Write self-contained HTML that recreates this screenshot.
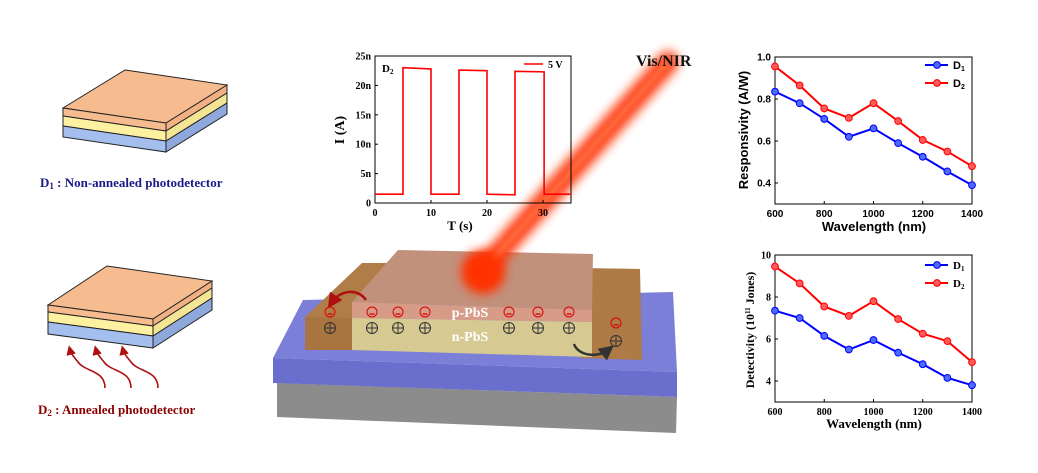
<!DOCTYPE html>
<html><head><meta charset="utf-8"><style>
html,body{margin:0;padding:0;background:#fff;width:1038px;height:473px;overflow:hidden}
svg text{font-family:"Liberation Serif",serif;font-weight:bold}
.s{font-family:"Liberation Sans",sans-serif !important}
</style></head><body>
<svg id="g" width="1038" height="473" viewBox="0 0 1038 473" xmlns="http://www.w3.org/2000/svg">
<defs>
<filter id="bl" x="-50%" y="-50%" width="200%" height="200%"><feGaussianBlur stdDeviation="5"/></filter>
<filter id="bl2" x="-50%" y="-50%" width="200%" height="200%"><feGaussianBlur stdDeviation="2"/></filter>
<marker id="ar" markerWidth="6" markerHeight="6" refX="3" refY="3" orient="auto"><path d="M0,0L6,3L0,6z" fill="#b01010"/></marker>
<marker id="ak" markerWidth="6" markerHeight="6" refX="3" refY="3" orient="auto"><path d="M0,0L6,3L0,6z" fill="#333"/></marker>
</defs>

<g stroke="#222" stroke-width="1">
<polygon points="63,108 125,70 227,85 166,123" fill="#f7bb90"/>
<polygon points="63,108 166,123 166,131 63,116" fill="#f7bb90"/>
<polygon points="63,116 166,131 166,141 63,126" fill="#fdf0a0"/>
<polygon points="63,126 166,141 166,152 63,137" fill="#a4bfee"/>
<polygon points="166,123 227,85 227,93 166,131" fill="#f2b084"/>
<polygon points="166,131 227,93 227,103 166,141" fill="#f3e594"/>
<polygon points="166,141 227,103 227,114 166,152" fill="#8ea8dc"/>
</g>
<text x="40" y="187" font-size="13" fill="#1a1a8a">D<tspan font-size="9" dy="2">1</tspan><tspan dy="-2"> :  Non-annealed photodetector</tspan></text>

<g stroke="#222" stroke-width="1">
<polygon points="48,305 107,266 212,281 153,319" fill="#f7bb90"/>
<polygon points="48,305 153,319 153,326 48,312" fill="#f7bb90"/>
<polygon points="48,312 153,326 153,336 48,322" fill="#fdf0a0"/>
<polygon points="48,322 153,336 153,348 48,334" fill="#a4bfee"/>
<polygon points="153,319 212,281 212,288 153,326" fill="#f2b084"/>
<polygon points="153,326 212,288 212,298 153,336" fill="#f3e594"/>
<polygon points="153,336 212,298 212,310 153,348" fill="#8ea8dc"/>
</g>
<g fill="none" stroke="#b01010" stroke-width="1.6" marker-end="url(#ar)">
<path d="M105,388 C105,370 85,372 78,362 C74,357 71,354 70,350"/>
<path d="M131,388 C131,370 111,372 104,362 C100,357 97,354 96,350"/>
<path d="M158,388 C158,370 138,372 131,362 C127,357 124,354 123,350"/>
</g>
<text x="38" y="414" font-size="13" fill="#8b0000">D<tspan font-size="9" dy="2">2</tspan><tspan dy="-2"> :  Annealed photodetector</tspan></text>

<polygon points="277,383 677,397 676,433 277,417" fill="#8c8c8c"/>
<polygon points="273,358 303,300 673,292 677,372" fill="#7b7fd8"/>
<polygon points="273,358 677,372 677,397 273,383" fill="#6a6ecc"/>
<polygon points="305,317 362,263 400,263 400,348 353,350 305,350" fill="#b07d48"/>
<polygon points="305,317 353,318 353,350 305,350" fill="#a8743f"/>
<polygon points="580,268 640,269 642,360 580,358" fill="#ae7a45"/>
<polygon points="398,250 593,254 592,310 352,302" fill="#c2917c"/>
<polygon points="352,302 592,310 592,322 352,318" fill="#d69c88"/>
<polygon points="352,318 592,322 592,357 352,350" fill="#d6ca92"/>
<line x1="668" y1="62" x2="485" y2="268" stroke="#ff3a10" stroke-width="22" stroke-linecap="round" filter="url(#bl)" opacity="0.95"/>
<line x1="668" y1="62" x2="485" y2="268" stroke="#ff6a40" stroke-width="6" filter="url(#bl2)"/>
<circle cx="483" cy="272" r="22" fill="#ff3000" filter="url(#bl)"/>
<text x="470" y="317" font-size="14" fill="#fff" text-anchor="middle">p-PbS</text>
<text x="470" y="341" font-size="14" fill="#fff" text-anchor="middle">n-PbS</text>
<g id="chg"></g>
<path d="M366,300 C358,288 340,290 332,302" fill="none" stroke="#b01010" stroke-width="2.5" marker-end="url(#ar)"/>
<path d="M574,344 C578,356 598,358 608,350" fill="none" stroke="#333" stroke-width="2.5" marker-end="url(#ak)"/>
<text x="636" y="66" font-size="16" fill="#111">Vis/NIR</text>

<rect x="375" y="56" width="196" height="147" fill="none" stroke="#000" stroke-width="1"/>
<g id="it"></g>
<text x="382" y="72" font-size="11">D<tspan font-size="7" dy="2">2</tspan></text>
<line x1="524" y1="64" x2="543" y2="64" stroke="#f00" stroke-width="1.5"/>
<text x="548" y="68" font-size="10">5 V</text>
<text x="344" y="130" font-size="14" text-anchor="middle" transform="rotate(-90 344 130)">I (A)</text>
<text x="460" y="230" font-size="13" text-anchor="middle">T  (s)</text>

<rect x="775" y="57" width="197" height="147" fill="none" stroke="#000"/>
<rect x="775" y="255" width="197" height="147" fill="none" stroke="#000"/>
<g id="rc"></g>
<text class="s" x="874" y="231" font-size="13" text-anchor="middle">Wavelength (nm)</text>
<text class="s" x="748" y="130" font-size="13" text-anchor="middle" transform="rotate(-90 748 130)">Responsivity (A/W)</text>
<text x="874" y="428" font-size="13" text-anchor="middle">Wavelength (nm)</text>
<text x="754" y="330" font-size="12" text-anchor="middle" transform="rotate(-90 754 330)">Detectivity (10<tspan font-size="7" dy="-4">11</tspan><tspan dy="4"> Jones)</tspan></text>
</svg>
<script>
var NS="http://www.w3.org/2000/svg";
function el(p,t,a,txt){var e=document.createElementNS(NS,t);for(var k in a)e.setAttribute(k,a[k]);if(txt!=null)e.textContent=txt;document.getElementById(p).appendChild(e);return e;}
[330,372,398,425,509,538,569].forEach(function(x){
 el('chg','circle',{cx:x,cy:312,r:5,fill:'none',stroke:'#d00','stroke-width':1});
 el('chg','line',{x1:x-2.5,y1:314,x2:x+2.5,y2:314,stroke:'#d00','stroke-width':1.3});
 el('chg','circle',{cx:x,cy:328,r:5.5,fill:'none',stroke:'#333','stroke-width':1});
 el('chg','path',{d:'M'+(x-5)+',328h10M'+x+',323v10',stroke:'#333','stroke-width':1});
});
el('chg','circle',{cx:616,cy:323,r:5,fill:'none',stroke:'#d00'});
el('chg','line',{x1:613.5,y1:325,x2:618.5,y2:325,stroke:'#d00','stroke-width':1.3});
el('chg','circle',{cx:616,cy:341,r:5.5,fill:'none',stroke:'#333'});
el('chg','path',{d:'M611,341h10M616,336v10',stroke:'#333'});
function X(t){return 375+t*5.6}function Y(v){return 203-v*5.88}
var seg=[[0,1.5],[5,1.5],[5,23],[10,22.8],[10,1.5],[15,1.5],[15,22.6],[20,22.5],[20,1.5],[25,1.4],[25,22.4],[30.2,22.3],[30.2,1.5],[35,1.5]];
el('it','polyline',{points:seg.map(function(p){return X(p[0])+','+Y(p[1])}).join(' '),fill:'none',stroke:'#f00','stroke-width':1.6});
for(var v=0;v<=25;v+=5){el('it','line',{x1:375,y1:Y(v),x2:378,y2:Y(v),stroke:'#000'});
 el('it','text',{x:371,y:Y(v)+3.5,'font-size':10,'text-anchor':'end'},v==0?'0':v+'n');}
for(var t=0;t<=30;t+=10){el('it','line',{x1:X(t),y1:203,x2:X(t),y2:200,stroke:'#000'});
 el('it','text',{x:X(t),y:216,'font-size':10,'text-anchor':'middle'},''+t);}
function WX(w){return 775+(w-600)*197/800}
var wl=[600,700,800,900,1000,1100,1200,1300,1400];
function plot(y0,ymin,ppu,d1,d2,ticks,serif,ly){
 function Yy(v){return y0-(v-ymin)*ppu}
 [[d1,'#00f','#4d6bff'],[d2,'#f00','#ff5a5a']].forEach(function(s,i){
  el('rc','polyline',{points:s[0].map(function(v,j){return WX(wl[j])+','+Yy(v)}).join(' '),fill:'none',stroke:s[1],'stroke-width':2});
  s[0].forEach(function(v,j){el('rc','circle',{cx:WX(wl[j]),cy:Yy(v),r:3.4,fill:s[2],stroke:s[1],'stroke-width':1})});
  var yy=ly+i*18;
  el('rc','line',{x1:925,y1:yy,x2:948,y2:yy,stroke:s[1],'stroke-width':2});
  el('rc','circle',{cx:937,cy:yy,r:3.4,fill:s[2],stroke:s[1]});
  var t=el('rc','text',{x:953,y:yy+4,'font-size':11},'D');
  var ts=document.createElementNS(NS,'tspan');ts.setAttribute('font-size','7');ts.setAttribute('dy','2');ts.textContent=''+(i+1);t.appendChild(ts);
  if(!serif)t.setAttribute('class','s');
 });
 ticks.forEach(function(v){el('rc','line',{x1:775,y1:Yy(v),x2:778,y2:Yy(v),stroke:'#000'});
  var t=el('rc','text',{x:771,y:Yy(v)+3.5,'font-size':10,'text-anchor':'end'},ymin<1?v.toFixed(1):''+v);if(!serif)t.setAttribute('class','s');});
 [600,800,1000,1200,1400].forEach(function(w){el('rc','line',{x1:WX(w),y1:y0,x2:WX(w),y2:y0-3,stroke:'#000'});
  var t=el('rc','text',{x:WX(w),y:y0+13,'font-size':10,'text-anchor':'middle'},''+w);if(!serif)t.setAttribute('class','s');});
}
plot(204,0.3,210,[.835,.78,.705,.62,.66,.59,.525,.455,.39],[.955,.865,.755,.71,.78,.695,.605,.55,.48],[0.4,0.6,0.8,1.0],false,65);
plot(402,3,21,[7.35,7.0,6.15,5.5,5.95,5.35,4.8,4.15,3.8],[9.45,8.65,7.55,7.1,7.8,6.95,6.25,5.9,4.9],[4,6,8,10],true,265);
</script>
</body></html>
